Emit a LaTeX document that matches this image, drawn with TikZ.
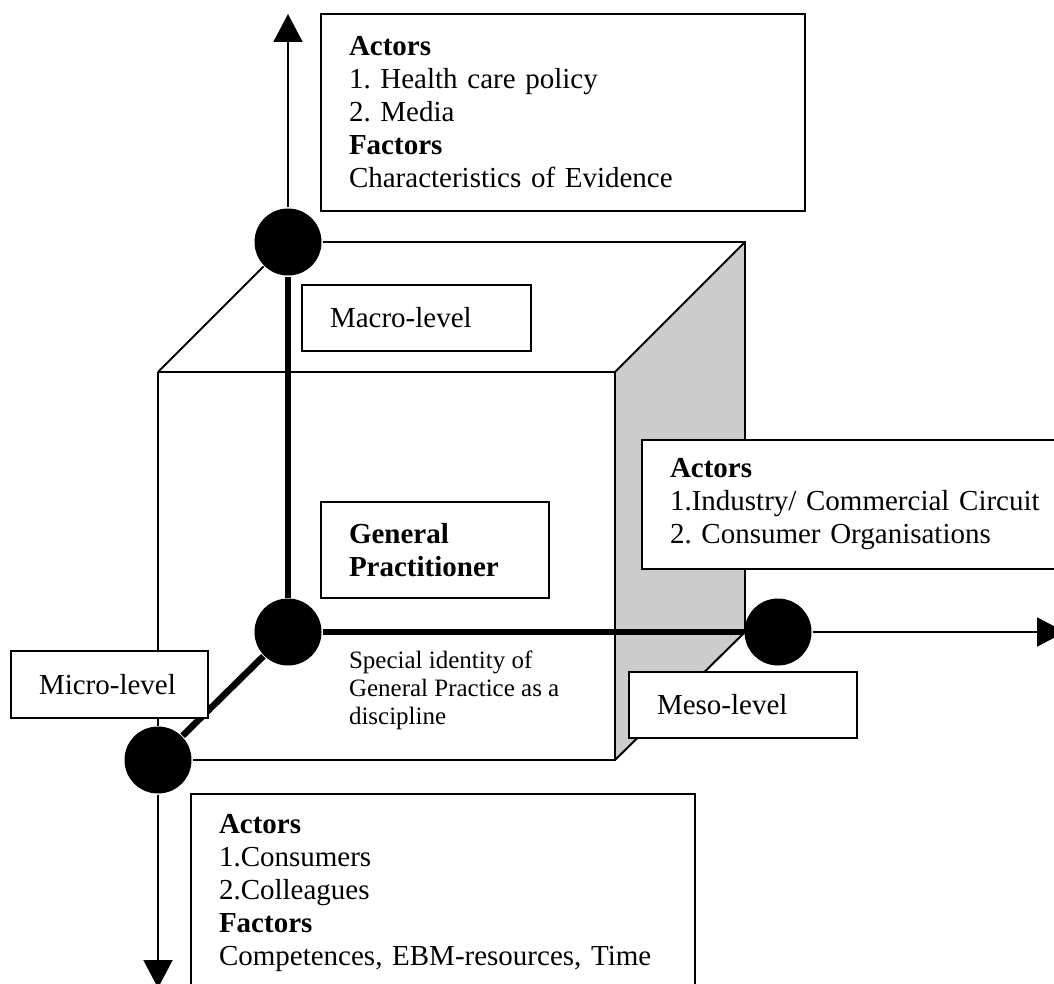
\documentclass[tikz,border=0pt]{standalone}
\usepackage{fontspec}
\setmainfont{Liberation Serif}
\usetikzlibrary{arrows.meta}
\frenchspacing

\tikzset{every picture/.style={line width=2pt}}
\tikzset{
  lvlbox/.style={draw, fill=white, anchor=north west, align=left, inner xsep=28pt, inner ysep=0pt, font=\fontsize{29}{33}\selectfont},
  dot/.style={circle, fill=black, draw=none, minimum size=67pt, inner sep=0pt},
  axis/.style={line width=6.5pt},
  axisarrow/.style={-{Triangle[length=28pt,width=29pt]}}
}

\begin{document}
\begin{tikzpicture}[x=1pt,y=1pt,yscale=-1,xscale=1]
\useasboundingbox (0,0) rectangle (1054,984);
\clip (0,0) rectangle (1054,984);

%Corners of the cube
\coordinate (ftl) at (158,372);
\coordinate (ftr) at (615,372);
\coordinate (fbr) at (615,760);
\coordinate (btr) at (745,242);
\coordinate (bbr) at (745,632);
%Free ends of the axes
\coordinate (macroend) at (288,14);
\coordinate (mesoend) at (1065,632);
\coordinate (microend) at (158,988);

%Shape: Side face
\fill [gray!40] (ftr) -- (btr) -- (bbr) -- (fbr) -- cycle ;

%Shape: Circles
\node (macrodot) [dot] at (288,242) {};
\node (gpdot) [dot] at (288,632) {};
\node (mesodot) [dot] at (778,632) {};
\node (microdot) [dot] at (158,760) {};

%Straight Lines: cube
\draw (ftl) -- (ftr) -- (fbr) -- (microdot) ;
\draw (ftl) -- (microdot) ;
\draw (macrodot) -- (btr) -- (bbr) ;
\draw (macrodot) -- (ftl) ;
\draw (btr) -- (ftr) ;
\draw (bbr) -- (fbr) ;

%Straight Lines: thick axes
\draw [axis] (macrodot) -- (gpdot) ;
\draw [axis] (gpdot) -- (mesodot) ;
\draw [axis] (gpdot) -- (microdot) ;

%Straight Lines: arrows
\draw [axisarrow] (macrodot) -- (macroend) ;
\draw [axisarrow] (mesodot) -- (mesoend) ;
\draw [axisarrow] (microdot) -- (microend) ;

% Text Node
\node (macrobox) [lvlbox, text width=428pt, minimum height=197pt] at (320,13) {\textbf{Actors}\\1. Health care policy\\2. Media\\\textbf{Factors}\\Characteristics of Evidence};
% Text Node
\node (macrolabel) [lvlbox, text width=173pt, minimum height=66pt] at (301,284) {Macro-level};
% Text Node
\node (gpbox) [lvlbox, text width=172pt, minimum height=96pt] at (320,501) {\textbf{General}\\\textbf{Practitioner}};
% Text Node
\node (gpnote) [anchor=north west, align=left, inner sep=0pt, font=\fontsize{25}{28}\selectfont] at (348,650) {Special identity of\\General Practice as a\\discipline};
% Text Node
\node (microlabel) [lvlbox, text width=141pt, minimum height=67pt] at (10,650) {Micro-level};
% Text Node
\node (mesobox) [lvlbox, text width=380pt, minimum height=129pt] at (641,439) {\textbf{Actors}\\1.Industry/ Commercial Circuit\\2. Consumer Organisations};
% Text Node
\node (mesolabel) [lvlbox, text width=172pt, minimum height=66pt] at (628,671) {Meso-level};
% Text Node
\node (microbox) [lvlbox, text width=448pt, minimum height=198pt] at (190,793) {\textbf{Actors}\\1.Consumers\\2.Colleagues\\\textbf{Factors}\\Competences, EBM-resources, Time};

\end{tikzpicture}
\end{document}
